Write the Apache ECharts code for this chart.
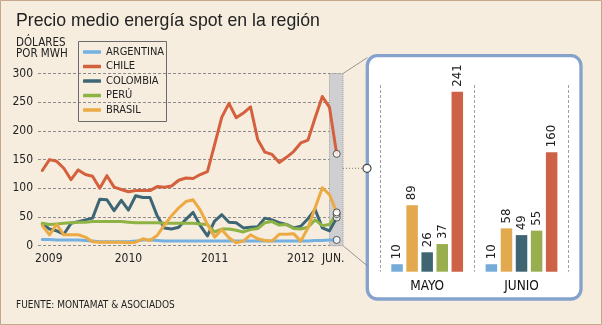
<!DOCTYPE html>
<html>
<head>
<meta charset="utf-8">
<title>Precio medio energía spot en la región</title>
<script src="https://cdn.jsdelivr.net/npm/echarts/dist/echarts.min.js"></script>
<style>
  html, body { margin: 0; padding: 0; background: #f6eddf; }
  #chart { width: 602px; height: 325px; }
</style>
</head>
<body>
<div id="chart"></div>
<script>
// Monthly spot prices, Jan 2009 – Jun 2012 (US$ per MWh)
const ARGENTINA = [11,11,10,10,10,10,9,8,7,7,7,7,7,8,10,10,9,8,8,8,8,8,8,8,8,8,8,8,8,8,8,8,8,8,8,8,8,8,9,9,10,10];
const CHILE     = [131,150,147,135,115,132,124,121,100,122,102,98,94,96,96,96,103,102,104,114,118,117,124,129,176,224,248,223,231,242,185,163,159,145,154,164,179,184,223,260,241,160];
const COLOMBIA  = [38,29,26,20,39,42,45,48,81,80,61,79,62,87,84,84,52,31,29,32,46,58,35,17,43,54,41,40,31,32,33,48,45,40,37,31,34,47,63,31,26,49];
const PERU      = [39,37,38,39,40,41,41,42,42,42,42,42,41,40,40,40,40,39,39,39,39,39,38,37,24,29,29,27,24,28,30,40,42,36,37,30,29,32,45,35,37,55];
const BRASIL    = [35,19,37,19,19,19,15,7,6,6,6,6,5,6,12,9,18,36,52,66,77,80,62,37,15,28,14,5,8,19,12,9,8,20,20,21,8,31,66,101,89,58];

// Series names (legend order) and their colours
const lineNames  = ['ARGENTINA', 'CHILE', 'COLOMBIA', 'PERÚ', 'BRASIL'];
const lineValues = [ARGENTINA, CHILE, COLOMBIA, PERU, BRASIL];
const lineColors = ['#72b1e2', '#d4603d', '#3d6675', '#8db345', '#ecaa45'];

// Detail panel: last two months, bars in this order
const barCategories = ['MAYO', 'JUNIO'];
const barNames  = ['ARGENTINA', 'BRASIL', 'COLOMBIA', 'PERÚ', 'CHILE'];
const barColors = ['#74abd8', '#e2a94e', '#3f6572', '#99ae4e', '#cd6246'];

// x-axis labels (month index -> text)
const tickMonths = [0, 12, 24, 36, 41];
const tickLabels = ['2009', '2010', '2011', '2012', 'JUN.'];

const NARROW = '"Liberation Sans Narrow", "DejaVu Sans Condensed", "Arial Narrow", sans-serif';
const SANS = '"Liberation Sans", Arial, sans-serif';

const nMonths = CHILE.length;
const xMin = -0.6, xMax = nMonths - 1 + 0.88;

const series = [];
lineNames.forEach((name, k) => {
  const s = {
    name,
    type: 'line',
    xAxisIndex: 0, yAxisIndex: 0,
    data: lineValues[k].map((v, i) => [i, v]),
    symbol: 'none',
    color: lineColors[k],
    lineStyle: { width: 3, color: lineColors[k], join: 'round', cap: 'round' },
    z: 3 + k,
    animation: false
  };
  if (k === 0) {
    // shaded band over the two months shown in the detail panel
    s.markArea = {
      silent: true,
      itemStyle: { color: '#cfcfd2', borderColor: '#9d9d9d', borderType: 'dotted', borderWidth: 1 },
      data: [[{ xAxis: nMonths - 2 }, { xAxis: xMax }]]
    };
  }
  series.push(s);
});

// end-of-series markers
series.push({
  type: 'scatter',
  xAxisIndex: 0, yAxisIndex: 0,
  data: lineValues.map(arr => [arr.length - 1, arr[arr.length - 1]]),
  symbol: 'circle',
  symbolSize: 7,
  itemStyle: { color: '#ffffff', borderColor: '#333', borderWidth: 1 },
  z: 20,
  animation: false
});

// detail bars built from the last two months of each series
barNames.forEach((name, k) => {
  const src = lineValues[lineNames.indexOf(name)];
  series.push({
    name,
    type: 'bar',
    xAxisIndex: 1, yAxisIndex: 1,
    data: src.slice(-2),
    barWidth: 11.5,
    barGap: '31%',
    itemStyle: { color: barColors[k] },
    label: {
      show: true, position: 'top', rotate: 90, align: 'left', verticalAlign: 'middle',
      distance: 5, fontSize: 13, color: '#222', fontFamily: NARROW
    },
    animation: false
  });
});

const chart = echarts.init(document.getElementById('chart'), null, { renderer: 'canvas' });
chart.setOption({
  backgroundColor: '#f6eddf',
  animation: false,
  textStyle: { fontFamily: NARROW },
  grid: [
    { left: 38, right: 259, top: 73.5, bottom: 79.3 },
    { left: 380, right: 33.3, top: 85, bottom: 53.3 }
  ],
  legend: {
    data: lineNames,
    orient: 'vertical',
    left: 78, top: 41.7,
    padding: [4.3, 0, 0, 5],
    icon: 'roundRect',
    itemWidth: 18, itemHeight: 3.5, itemGap: 2.5,
    selectedMode: false,
    textStyle: { fontSize: 11, color: '#222', fontFamily: NARROW, lineHeight: 12 }
  },
  xAxis: [
    {
      gridIndex: 0, type: 'value', min: xMin, max: xMax,
      axisLine: { show: false }, axisTick: { show: false }, splitLine: { show: false },
      axisLabel: {
        customValues: tickMonths,
        margin: 7,
        fontSize: 12, color: '#222', fontFamily: NARROW,
        formatter: v => {
          const t = tickLabels[tickMonths.indexOf(v)];
          if (t === undefined) return '';
          if (v === tickMonths[0]) return '{first|' + t + '}';
          if (v === tickMonths[tickMonths.length - 1]) return '{last|' + t + '}';
          return t;
        },
        rich: {
          first: { fontSize: 12, color: '#222', fontFamily: NARROW, padding: [0, 0, 0, 13] },
          last: { fontSize: 12, color: '#222', fontFamily: NARROW, padding: [0, 7, 0, 0] }
        }
      }
    },
    {
      gridIndex: 1, type: 'category', data: barCategories, z: 1,
      axisLine: { show: false }, axisTick: { show: false },
      splitLine: { show: true, lineStyle: { type: [3, 2], color: '#a0a0a0', width: 1 } },
      axisLabel: { margin: 8, fontSize: 13.5, color: '#111', fontFamily: NARROW }
    }
  ],
  yAxis: [
    {
      gridIndex: 0, type: 'value', min: 0, max: 300, interval: 50,
      axisLine: { show: false }, axisTick: { show: false },
      axisLabel: { margin: 5, fontSize: 12, color: '#222', fontFamily: NARROW },
      splitLine: { lineStyle: { type: [3, 2], color: '#8c8c8c', width: 1 } }
    },
    { gridIndex: 1, type: 'value', min: 0, max: 250, show: false }
  ],
  graphic: [
    // outer frame
    { type: 'rect', z: -5, shape: { x: 0.5, y: 0.5, width: 601, height: 324 },
      style: { fill: 'none', stroke: '#c4a78a', lineWidth: 1 } },
    // title and unit
    { type: 'text', left: 16, top: 12, z: 5,
      style: { text: 'Precio medio energía spot en la región', fontSize: 17.7, fontFamily: SANS, fill: '#222' } },
    { type: 'text', left: 16, top: 37, z: 5,
      style: { text: 'DÓLARES\nPOR MWH', fontSize: 11.5, lineHeight: 11.5, fontFamily: NARROW, fill: '#222' } },
    // source
    { type: 'text', left: 16, top: 300.5, z: 5,
      style: { text: 'FUENTE: MONTAMAT & ASOCIADOS', fontSize: 10, fontFamily: NARROW, fill: '#222' } },
    // legend frame
    { type: 'rect', z: 5, shape: { x: 78.5, y: 41.5, width: 88, height: 80 },
      style: { fill: 'none', stroke: '#6a6a6a', lineWidth: 1 } },
    // detail panel
    { type: 'rect', z: -1, shape: { x: 367.3, y: 55.7, width: 213.7, height: 243.3, r: 10 },
      style: { fill: '#ffffff', stroke: '#84a2cc', lineWidth: 3.3 } },
    // connectors from the band to the panel
    { type: 'line', z: 5, shape: { x1: 343, y1: 73.5, x2: 367.5, y2: 57.5 },
      style: { stroke: '#808080', lineWidth: 0.8 } },
    { type: 'line', z: 5, shape: { x1: 343, y1: 245.7, x2: 367.5, y2: 266 },
      style: { stroke: '#808080', lineWidth: 0.8 } },
    { type: 'line', z: 5, shape: { x1: 343, y1: 168.3, x2: 363, y2: 168.3 },
      style: { stroke: '#777', lineWidth: 1, lineDash: [1, 2] } },
    { type: 'circle', z: 30, shape: { cx: 367, cy: 168.3, r: 4 },
      style: { fill: '#ffffff', stroke: '#444', lineWidth: 1.2 } }
  ],
  series
});
</script>
</body>
</html>
